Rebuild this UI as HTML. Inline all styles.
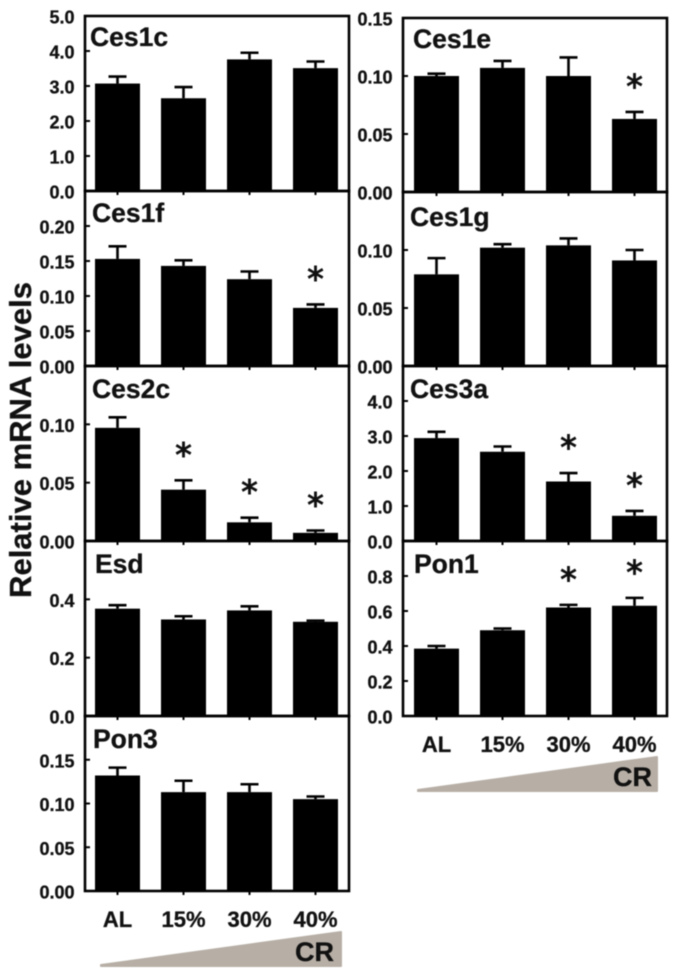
<!DOCTYPE html>
<html>
<head>
<meta charset="utf-8">
<title>Relative mRNA levels</title>
<style>
html,body{margin:0;padding:0;background:#fff;width:675px;height:974px;overflow:hidden}
svg{display:block;filter:blur(0.45px)}
text{font-family:"Liberation Sans",Arial,sans-serif;font-weight:bold;fill:#111;stroke:#111;stroke-width:0.3px}
</style>
</head>
<body>
<svg id="chart" width="675" height="974" viewBox="0 0 675 974" xmlns="http://www.w3.org/2000/svg">
  <text transform="translate(31,440) rotate(-90)" text-anchor="middle" font-size="31">Relative mRNA levels</text>
  <polygon points="101,965 341,932 341,966 101,966" fill="#b7afa6" stroke="#b7afa6" stroke-width="2" stroke-linejoin="round"/>
  <text x="295" y="961" font-size="27">CR</text>
  <polygon points="418,790 657,757 657,791 418,791" fill="#b7afa6" stroke="#b7afa6" stroke-width="2" stroke-linejoin="round"/>
  <text x="613" y="786" font-size="27">CR</text>
</svg>
<script>
const categories = ['AL', '15%', '30%', '40%'];

const ces1cMeans = [3.07, 2.65, 3.76, 3.51];
const ces1cTops = [3.27, 2.97, 3.95, 3.70];
const ces1cStars = [0, 0, 0, 0];
const ces1cTicks = ['0.0', '1.0', '2.0', '3.0', '4.0', '5.0'];

const ces1fMeans = [0.153, 0.143, 0.124, 0.083];
const ces1fTops = [0.171, 0.151, 0.135, 0.088];
const ces1fStars = [0, 0, 0, 1];
const ces1fTicks = ['0.00', '0.05', '0.10', '0.15', '0.20'];

const ces2cMeans = [0.097, 0.044, 0.016, 0.007];
const ces2cTops = [0.106, 0.052, 0.020, 0.009];
const ces2cStars = [0, 1, 1, 1];
const ces2cTicks = ['0.00', '0.05', '0.10'];

const esdMeans = [0.368, 0.331, 0.362, 0.323];
const esdTops = [0.380, 0.342, 0.376, 0.327];
const esdStars = [0, 0, 0, 0];
const esdTicks = ['0.0', '0.2', '0.4'];

const pon3Means = [0.132, 0.113, 0.113, 0.105];
const pon3Tops = [0.141, 0.126, 0.122, 0.108];
const pon3Stars = [0, 0, 0, 0];
const pon3Ticks = ['0.00', '0.05', '0.10', '0.15'];

const ces1eMeans = [0.100, 0.107, 0.100, 0.063];
const ces1eTops = [0.102, 0.113, 0.116, 0.069];
const ces1eStars = [0, 0, 0, 1];
const ces1eTicks = ['0.00', '0.05', '0.10', '0.15'];

const ces1gMeans = [0.079, 0.102, 0.104, 0.091];
const ces1gTops = [0.093, 0.105, 0.110, 0.100];
const ces1gStars = [0, 0, 0, 0];
const ces1gTicks = ['0.00', '0.05', '0.10'];

const ces3aMeans = [2.94, 2.55, 1.70, 0.72];
const ces3aTops = [3.12, 2.70, 1.94, 0.86];
const ces3aStars = [0, 0, 1, 1];
const ces3aTicks = ['0.0', '1.0', '2.0', '3.0', '4.0'];

const pon1Means = [0.385, 0.490, 0.620, 0.630];
const pon1Tops = [0.400, 0.500, 0.635, 0.675];
const pon1Stars = [0, 0, 1, 1];
const pon1Ticks = ['0.0', '0.2', '0.4', '0.6', '0.8'];

const panels = [
  {name: 'Ces1c', means: ces1cMeans, tops: ces1cTops, stars: ces1cStars, ticks: ces1cTicks, max: 5.0, col: 0, y0: 16, y1: 191, lx: 90, ly: 46},
  {name: 'Ces1f', means: ces1fMeans, tops: ces1fTops, stars: ces1fStars, ticks: ces1fTicks, max: 0.25, col: 0, y0: 191, y1: 366, lx: 92, ly: 222},
  {name: 'Ces2c', means: ces2cMeans, tops: ces2cTops, stars: ces2cStars, ticks: ces2cTicks, max: 0.15, col: 0, y0: 366, y1: 541, lx: 92, ly: 398},
  {name: 'Esd', means: esdMeans, tops: esdTops, stars: esdStars, ticks: esdTicks, max: 0.6, col: 0, y0: 541, y1: 716, lx: 95, ly: 573},
  {name: 'Pon3', means: pon3Means, tops: pon3Tops, stars: pon3Stars, ticks: pon3Ticks, max: 0.2, col: 0, y0: 716, y1: 891, lx: 93, ly: 748, xlabels: 927},
  {name: 'Ces1e', means: ces1eMeans, tops: ces1eTops, stars: ces1eStars, ticks: ces1eTicks, max: 0.15, col: 1, y0: 18, y1: 192, lx: 413, ly: 48},
  {name: 'Ces1g', means: ces1gMeans, tops: ces1gTops, stars: ces1gStars, ticks: ces1gTicks, max: 0.15, col: 1, y0: 192, y1: 366, lx: 410, ly: 226},
  {name: 'Ces3a', means: ces3aMeans, tops: ces3aTops, stars: ces3aStars, ticks: ces3aTicks, max: 5.0, col: 1, y0: 366, y1: 541, lx: 410, ly: 398},
  {name: 'Pon1', means: pon1Means, tops: pon1Tops, stars: pon1Stars, ticks: pon1Ticks, max: 1.0, col: 1, y0: 541, y1: 716, lx: 414, ly: 573, xlabels: 752}
];

const columns = [
  {left: 85, right: 349, firstBar: 95},
  {left: 403, right: 667, firstBar: 414}
];
const BAR_W = 45;
const BAR_STEP = 66;
const svg = document.getElementById('chart');

function make(tag, attrs, parent) {
  const el = document.createElementNS('http://www.w3.org/2000/svg', tag);
  for (const k in attrs) el.setAttribute(k, attrs[k]);
  parent.appendChild(el);
  return el;
}
function xScale(col, i) {
  return col.firstBar + i * BAR_STEP;
}
function yScale(p, v) {
  return p.y1 - (v / p.max) * (p.y1 - p.y0);
}

panels.forEach(function (p) {
  const col = columns[p.col];
  const key = p.name.toLowerCase();
  const g = make('g', {}, svg);
  
  

  p.means.forEach(function (m, i) {
    const x = xScale(col, i);
    const cx = x + BAR_W / 2;
    const yTop = yScale(p, m);
    const yErr = yScale(p, p.tops[i]);

    const stem = make('line', {x1: cx, x2: cx, y1: yTop, y2: yErr, stroke: '#000', 'stroke-width': 2.6}, g);
    
    

    const cap = make('line', {x1: cx - 9, x2: cx + 9, y1: yErr, y2: yErr, stroke: '#000', 'stroke-width': 2.6}, g);
    
    

    const bar = make('rect', {x: x, y: yTop, width: BAR_W, height: p.y1 - yTop, fill: '#000'}, g);
    
    

    const xt = make('line', {x1: cx, x2: cx, y1: p.y1, y2: p.y1 + 4, stroke: '#000', 'stroke-width': 2}, g);
    
    

    if (p.stars[i]) {
      const star = make('text', {x: cx, y: yErr - 14, 'text-anchor': 'middle', 'font-size': 33}, g);
      star.style.fontFamily = '"DejaVu Sans",sans-serif';
      star.style.fontWeight = 'normal';
      star.style.strokeWidth = '1px';
      star.textContent = '*';
      
      
    }

    if (p.xlabels) {
      const xl = make('text', {x: cx, y: p.xlabels, 'text-anchor': 'middle', 'font-size': 22}, svg);
      xl.textContent = categories[i];
      
      
    }
  });

  const frame = make('rect', {x: col.left, y: p.y0, width: col.right - col.left, height: p.y1 - p.y0, fill: 'none', stroke: '#000', 'stroke-width': 2.6}, g);
  
  

  p.ticks.forEach(function (t) {
    const y = yScale(p, parseFloat(t));
    const tick = make('line', {x1: col.left, x2: col.left + 5, y1: y, y2: y, stroke: '#000', 'stroke-width': 2}, g);
    
    

    const label = make('text', {x: col.left - 10.5, y: y + 7.5, 'text-anchor': 'end', 'font-size': 18}, g);
    label.textContent = t;
    
    
  });

  const title = make('text', {x: p.lx, y: p.ly, 'font-size': 26.5}, g);
  title.textContent = p.name;
  
  
});
</script>
</body>
</html>
